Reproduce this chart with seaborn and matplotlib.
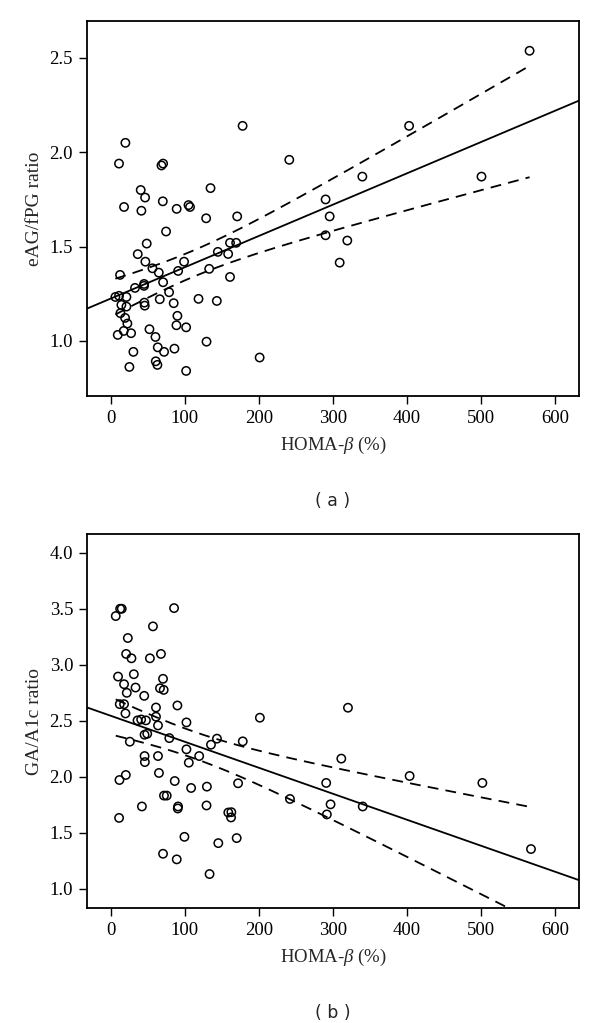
import numpy as np
import pandas as pd
import matplotlib
matplotlib.use("Agg")
import matplotlib.pyplot as plt
import seaborn as sns

# ---- data: panel (a) eAG/fPG ratio vs HOMA-beta ----
homa_a = [19.8, 11.2, 68.5, 70.7, 178, 241, 40.5, 46.4, 70.3, 134.7, 290, 18, 41.4, 89, 105, 107,
          128.8, 170.7, 295.5, 290, 309, 74.7, 48.6, 161, 169.3, 36.5, 144.6, 158.5, 46.8, 99, 56.3,
          64.9, 91, 132.9, 12.6, 161, 70.7, 45, 45, 32.8, 78.8, 6.3, 11.2, 21.2, 66.2, 118.5, 143.2,
          45.4, 45.9, 85, 14.4, 21.2, 13.1, 90, 19.4, 22.5, 88.7, 101.8, 52.3, 17.6, 9.5, 27.5, 60.4,
          129.3, 86, 63.5, 72, 30.6, 201, 60.8, 63, 25.2, 101.8, 565.3, 402.7, 339.6, 500.4, 319.3]
ratio_a = [2.05, 1.94, 1.93, 1.94, 2.14, 1.96, 1.80, 1.76, 1.74, 1.81, 1.75, 1.71, 1.69, 1.70, 1.72, 1.71,
           1.65, 1.66, 1.66, 1.56, 1.415, 1.58, 1.516, 1.52, 1.52, 1.46, 1.472, 1.461, 1.42, 1.42, 1.385,
           1.362, 1.371, 1.382, 1.35, 1.339, 1.311, 1.302, 1.292, 1.281, 1.258, 1.233, 1.239, 1.233, 1.221,
           1.223, 1.212, 1.203, 1.187, 1.20, 1.191, 1.182, 1.147, 1.133, 1.122, 1.092, 1.083, 1.072, 1.062,
           1.053, 1.032, 1.041, 1.021, 0.996, 0.959, 0.966, 0.942, 0.942, 0.912, 0.892, 0.873, 0.862, 0.841,
           2.538, 2.14, 1.871, 1.871, 1.532]

# ---- data: panel (b) GA/A1c ratio vs HOMA-beta ----
homa_b = [12.7, 14.9, 6.8, 85.5, 57, 23.1, 20.8, 28, 52.9, 67.8, 31.2, 9.9, 70.6, 18, 33.5, 66.5, 71.5,
          21.7, 45.2, 12.2, 18, 90, 61.1, 19.9, 61.1, 36.2, 41.1, 47.5, 63.8, 102.2, 201.3, 45.7, 49.3,
          79.1, 143.4, 178.2, 25.8, 135.3, 102.2, 45.7, 63.8, 119.4, 46.1, 105.4, 65.1, 20.4, 11.8, 86.4,
          290.8, 171.9, 108.5, 129.8, 71.9, 75.6, 241.9, 296.7, 42.1, 129.3, 90.9, 90.5, 158.7, 162.8,
          162.4, 291.7, 11.3, 99.5, 170, 145.2, 70.6, 89.1, 133.4, 320.2, 311.2, 403.4, 501.6, 340.1, 567.2]
ratio_b = [3.5, 3.5, 3.435, 3.506, 3.343, 3.239, 3.097, 3.058, 3.058, 3.097, 2.916, 2.895, 2.875, 2.827,
           2.797, 2.791, 2.776, 2.75, 2.723, 2.649, 2.649, 2.637, 2.619, 2.566, 2.537, 2.504, 2.512, 2.504,
           2.459, 2.486, 2.528, 2.376, 2.385, 2.346, 2.341, 2.317, 2.314, 2.287, 2.246, 2.186, 2.186, 2.186,
           2.132, 2.127, 2.035, 2.017, 1.972, 1.963, 1.946, 1.943, 1.901, 1.913, 1.833, 1.833, 1.803, 1.755,
           1.736, 1.745, 1.736, 1.718, 1.682, 1.685, 1.638, 1.665, 1.634, 1.465, 1.454, 1.409, 1.314, 1.264,
           1.133, 2.617, 2.163, 2.008, 1.946, 1.736, 1.356]

x_ticks = [0, 100, 200, 300, 400, 500, 600]
ya_ticks = [1.0, 1.5, 2.0, 2.5]
yb_ticks = [1.0, 1.5, 2.0, 2.5, 3.0, 3.5, 4.0]
x_label = "HOMA-$\\beta$ (%)"
ya_label = "eAG/fPG ratio"
yb_label = "GA/A1c ratio"

sns.set_theme(style="ticks")
plt.rcParams["font.family"] = ["Liberation Serif", "DejaVu Serif"]
plt.rcParams["mathtext.fontset"] = "custom"
plt.rcParams["mathtext.it"] = "Liberation Serif:italic"
plt.rcParams["mathtext.rm"] = "Liberation Serif"

fig = plt.figure(figsize=(6.0, 10.23), dpi=100)
ax_a = fig.add_axes([0.145, 0.6129, 0.820, 0.3666])
ax_b = fig.add_axes([0.145, 0.1124, 0.820, 0.3656])


def ci_band(x, y, grid, tcrit=1.99):
    x = np.asarray(x, float)
    y = np.asarray(y, float)
    n = len(x)
    b1, b0 = np.polyfit(x, y, 1)
    resid = y - (b0 + b1 * x)
    s = np.sqrt(np.sum(resid ** 2) / (n - 2))
    sxx = np.sum((x - x.mean()) ** 2)
    se = s * np.sqrt(1.0 / n + (grid - x.mean()) ** 2 / sxx)
    fit = b0 + b1 * grid
    return fit - tcrit * se, fit + tcrit * se


def panel(ax, xs, ys, yticks, ylim, ylabel, tag):
    ax.set_xlim(-32, 632)
    ax.set_ylim(*ylim)
    df = pd.DataFrame({"x": xs, "y": ys})
    sns.regplot(data=df, x="x", y="y", ax=ax, ci=None, truncate=False,
                scatter_kws=dict(s=36, facecolors="none", edgecolors="black",
                                 linewidths=1.1, alpha=1.0),
                line_kws=dict(color="black", lw=1.3))
    grid = np.linspace(min(xs), max(xs), 200)
    lo, hi = ci_band(xs, ys, grid)
    ax.plot(grid, lo, color="black", lw=1.3, ls=(0, (6, 4)))
    ax.plot(grid, hi, color="black", lw=1.3, ls=(0, (6, 4)))
    ax.set_xlim(-32, 632)
    ax.set_ylim(*ylim)
    ax.set_xticks(x_ticks)
    ax.set_yticks(yticks)
    ax.set_yticklabels([f"{t:.1f}" for t in yticks])
    ax.set_xlabel(x_label, fontsize=13.5, labelpad=6)
    ax.set_ylabel(ylabel, fontsize=14, labelpad=5)
    ax.tick_params(direction="out", length=6, width=1, labelsize=13.5, colors="black", pad=4)
    for sp in ax.spines.values():
        sp.set_visible(True)
        sp.set_linewidth(1.3)
        sp.set_color("black")
    ax.text(0.5, -0.28, tag, transform=ax.transAxes, ha="center", va="center",
            fontsize=12.5, family="DejaVu Sans")


panel(ax_a, homa_a, ratio_a, ya_ticks, (0.708, 2.696), ya_label, "( a )")
panel(ax_b, homa_b, ratio_b, yb_ticks, (0.83, 4.167), yb_label, "( b )")

fig.savefig("out.png", dpi=100)
